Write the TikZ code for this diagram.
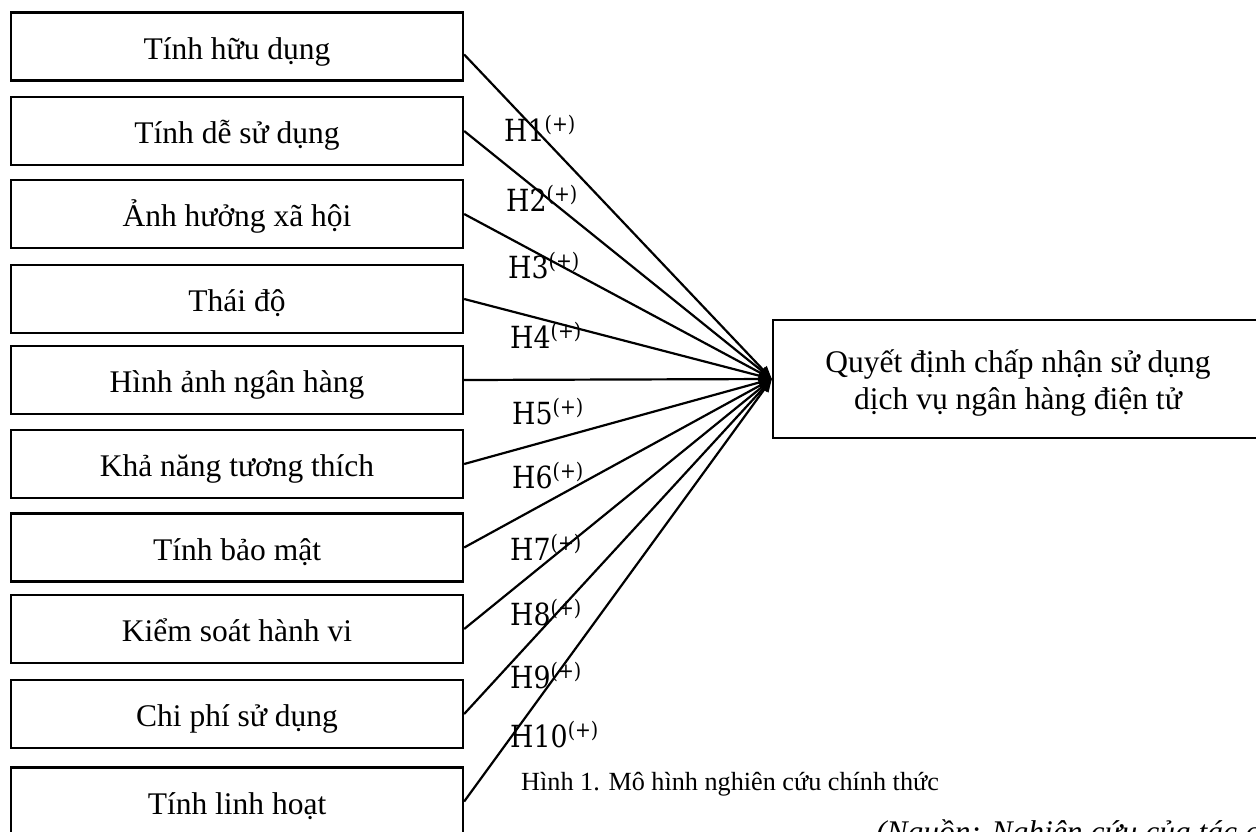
\documentclass[tikz,border=0pt]{standalone}
\usepackage{fontspec}
\setmainfont{Liberation Serif}
\newfontfamily\hypfont[FakeStretch=0.88]{DejaVu Serif}
\usetikzlibrary{arrows.meta}

\tikzset{
  factor/.style={draw, line width=2.3pt, minimum width=452pt, minimum height=68pt,
    inner sep=0pt, text height=25pt, text depth=0pt,
    font=\fontsize{31.5}{37}\selectfont},
  outcome/.style={draw, line width=2.3pt, minimum width=490pt, minimum height=118pt,
    inner sep=0pt, align=center, text height=60pt, text depth=0pt,
    font=\fontsize{31.5}{37}\selectfont},
  hyp/.style={anchor=base west, inner sep=0pt, font=\hypfont\fontsize{30.5}{30.5}\selectfont},
  link/.style={line width=2.2pt, -{Triangle[length=13pt,width=10pt]}},
  note/.style={anchor=base west, inner sep=0pt}
}
\newcommand{\hyplabel}[1]{H#1\raisebox{10pt}{\fontsize{21.5}{21.5}\selectfont(+)}}

\begin{document}
\begin{tikzpicture}[x=1pt, y=-1pt]
  \useasboundingbox (0,0) rectangle (1256,831);
  \clip (0,0) rectangle (1256,831);

  % factor boxes
  \node[factor] (b1)  at (237,46.5)  {Tính hữu dụng};
  \node[factor] (b2)  at (237,131)   {Tính dễ sử dụng};
  \node[factor] (b3)  at (237,214)   {Ảnh hưởng xã hội};
  \node[factor] (b4)  at (237,299)   {Thái độ};
  \node[factor] (b5)  at (237,380)   {Hình ảnh ngân hàng};
  \node[factor] (b6)  at (237,464)   {Khả năng tương thích};
  \node[factor] (b7)  at (237,547.5) {Tính bảo mật};
  \node[factor] (b8)  at (237,629)   {Kiểm soát hành vi};
  \node[factor] (b9)  at (237,714)   {Chi phí sử dụng};
  \node[factor] (b10) at (237,801.5) {Tính linh hoạt};

  % dependent variable
  \node[outcome] (q) at (1018,379) {Quyết định chấp nhận sử dụng\\dịch vụ ngân hàng điện tử};

  % hypothesised paths
  \draw[link] ([yshift=-8pt]b1.east) -- (q.west);
  \foreach \i in {2,...,10} {
    \draw[link] (b\i.east) -- (q.west);
  }

  % hypothesis labels
  \node[hyp] (h1)  at (504,141) {\hyplabel{1}};
  \node[hyp] (h2)  at (506,211) {\hyplabel{2}};
  \node[hyp] (h3)  at (508,278) {\hyplabel{3}};
  \node[hyp] (h4)  at (510,348) {\hyplabel{4}};
  \node[hyp] (h5)  at (512,424) {\hyplabel{5}};
  \node[hyp] (h6)  at (512,488) {\hyplabel{6}};
  \node[hyp] (h7)  at (510,560) {\hyplabel{7}};
  \node[hyp] (h8)  at (510,625) {\hyplabel{8}};
  \node[hyp] (h9)  at (510,688) {\hyplabel{9}};
  \node[hyp] (h10) at (510,747) {\hyplabel{10}};

  % caption and source
  \node[note, font=\fontsize{26.2}{30}\selectfont] (cap) at (521,790)
    {Hình 1. Mô hình nghiên cứu chính thức};
  \node[note, font=\fontsize{31.5}{37}\selectfont\itshape] (src) at (876,842)
    {(Nguồn: Nghiên cứu của tác giả)};
\end{tikzpicture}
\end{document}
